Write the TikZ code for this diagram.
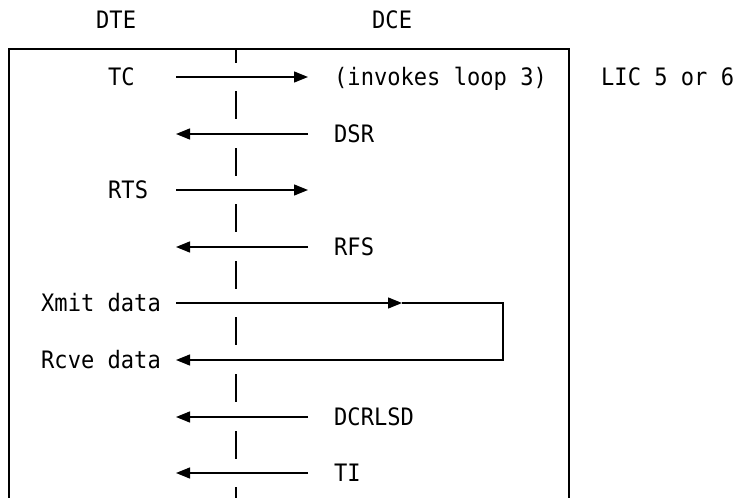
\documentclass[tikz,border=0pt]{standalone}
\usepackage{fontspec}
\setmonofont[FakeStretch=0.92]{DejaVu Sans Mono}
\usetikzlibrary{arrows.meta}
\tikzset{
  lbl/.style={font=\ttfamily\fontsize{24}{28}\selectfont, inner sep=0pt, anchor=west, text height=17.5pt, text depth=0pt},
  sig/.style={-{Triangle[length=14pt, width=11pt]}, line width=1.3pt, black}
}
\begin{document}
\begin{tikzpicture}[x=1pt, y=-1pt]
    \useasboundingbox (0,0) rectangle (740,498);
    % headings
    \node[lbl] (dte) at (96,20) {DTE};
    \node[lbl] (dce) at (372,20) {DCE};
    \node[lbl] (lic) at (601,77) {LIC 5 or 6};
    % frame, open at the bottom
    \draw[line width=1.3pt] (9,498) -- (9,49) -- (569,49) -- (569,498);
    % interface line
    \draw[line width=1.3pt] (236,49) -- (236,63);
    \foreach \m in {105,162,218,275,331,388,445,501}
      \draw[line width=1.3pt] (236,\m-14) -- (236,\m+14);
    % signals
    \node[lbl] (tc) at (108,77) {TC};
    \node[lbl] (loop) at (334,77) {(invokes loop 3)};
    \coordinate (tca) at (176,77);
    \coordinate (tcb) at (308,77);
    \draw[sig] (tca) -- (tcb);
    \node[lbl] (dsr) at (334,134) {DSR};
    \coordinate (dsra) at (308,134);
    \coordinate (dsrb) at (176,134);
    \draw[sig] (dsra) -- (dsrb);
    \node[lbl] (rts) at (108,190) {RTS};
    \coordinate (rtsa) at (176,190);
    \coordinate (rtsb) at (308,190);
    \draw[sig] (rtsa) -- (rtsb);
    \node[lbl] (rfs) at (334,247) {RFS};
    \coordinate (rfsa) at (308,247);
    \coordinate (rfsb) at (176,247);
    \draw[sig] (rfsa) -- (rfsb);
    % data wrapped round
    \node[lbl] (xmit) at (41,303) {Xmit data};
    \node[lbl] (rcve) at (41,360) {Rcve data};
    \coordinate (xa) at (176,303);
    \coordinate (xm) at (402,303);
    \coordinate (xr) at (503,303);
    \coordinate (rr) at (503,360);
    \coordinate (rb) at (176,360);
    \draw[sig] (xa) -- (xm);
    \draw[sig] (xm) -- (xr) -- (rr) -- (rb);
    \node[lbl] (dcd) at (334,417) {DCRLSD};
    \coordinate (dcda) at (308,417);
    \coordinate (dcdb) at (176,417);
    \draw[sig] (dcda) -- (dcdb);
    \node[lbl] (ti) at (334,473) {TI};
    \coordinate (tia) at (308,473);
    \coordinate (tib) at (176,473);
    \draw[sig] (tia) -- (tib);
  \end{tikzpicture}
\end{document}
